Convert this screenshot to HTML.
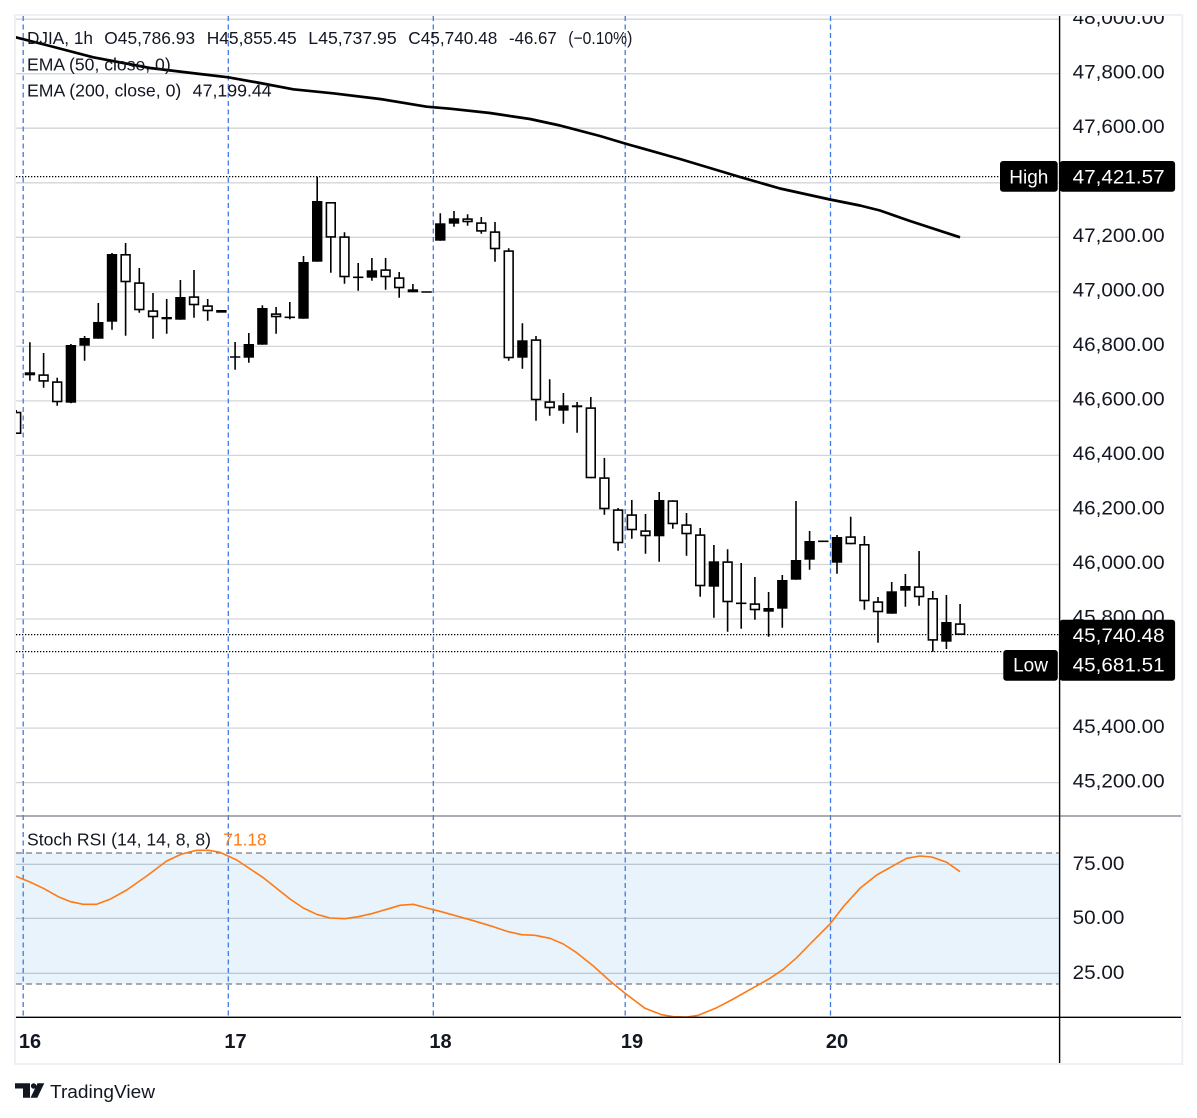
<!DOCTYPE html>
<html><head><meta charset="utf-8"><style>
html,body{margin:0;padding:0;background:#fff;}
svg{display:block;}
text{font-family:"Liberation Sans",sans-serif;}
</style></head><body>
<svg width="1197" height="1118" viewBox="0 0 1197 1118" xmlns="http://www.w3.org/2000/svg">
<defs>
<clipPath id="main"><rect x="16" y="16" width="1043.5" height="800"/></clipPath>
<clipPath id="stoch"><rect x="16" y="817" width="1043.5" height="200.3"/></clipPath>
<clipPath id="axis"><rect x="1060" y="16" width="121" height="800"/></clipPath>
</defs>
<rect x="0" y="0" width="1197" height="1118" fill="#fff"/>
<rect x="15" y="15" width="1167.3" height="1049" fill="#fff" stroke="#eef0f5" stroke-width="2"/>

<!-- main grid -->
<g stroke="#d3d5da" stroke-width="1.3">
<line x1="16" x2="1059" y1="19.2" y2="19.2"/>
<line x1="16" x2="1059" y1="73.7" y2="73.7"/>
<line x1="16" x2="1059" y1="128.2" y2="128.2"/>
<line x1="16" x2="1059" y1="182.8" y2="182.8"/>
<line x1="16" x2="1059" y1="237.3" y2="237.3"/>
<line x1="16" x2="1059" y1="291.8" y2="291.8"/>
<line x1="16" x2="1059" y1="346.4" y2="346.4"/>
<line x1="16" x2="1059" y1="400.9" y2="400.9"/>
<line x1="16" x2="1059" y1="455.4" y2="455.4"/>
<line x1="16" x2="1059" y1="510" y2="510"/>
<line x1="16" x2="1059" y1="564.5" y2="564.5"/>
<line x1="16" x2="1059" y1="619" y2="619"/>
<line x1="16" x2="1059" y1="673.6" y2="673.6"/>
<line x1="16" x2="1059" y1="728.1" y2="728.1"/>
<line x1="16" x2="1059" y1="782.6" y2="782.6"/>
</g>

<!-- stoch band -->
<rect x="16" y="853" width="1043.5" height="131" fill="#e8f3fc"/>
<g stroke="#b6c1ce" stroke-width="1.2">
<line x1="16" x2="1059" y1="864.3" y2="864.3"/>
<line x1="16" x2="1059" y1="918.3" y2="918.3"/>
<line x1="16" x2="1059" y1="973.3" y2="973.3"/>
</g>
<g stroke="#787b86" stroke-width="1.2" stroke-dasharray="6 4">
<line x1="16" x2="1059" y1="853" y2="853"/>
<line x1="16" x2="1059" y1="984" y2="984"/>
</g>

<!-- day lines -->
<g stroke="#3f7be3" stroke-width="1.3" stroke-dasharray="5 3.5">
<line x1="23.2" x2="23.2" y1="16" y2="1017"/>
<line x1="228.3" x2="228.3" y1="16" y2="1017"/>
<line x1="433.3" x2="433.3" y1="16" y2="1017"/>
<line x1="625.2" x2="625.2" y1="16" y2="1017"/>
<line x1="830.5" x2="830.5" y1="16" y2="1017"/>
</g>

<!-- dotted price lines -->
<g stroke="#000" stroke-width="1.2" stroke-dasharray="1.3 1.7">
<line x1="16" x2="1000" y1="176.6" y2="176.6"/>
<line x1="16" x2="1059" y1="634.6" y2="634.6"/>
<line x1="16" x2="1003" y1="651.6" y2="651.6"/>
</g>

<g clip-path="url(#main)">
<!-- EMA 200 -->
<polyline fill="none" stroke="#000" stroke-width="2.7" stroke-linejoin="round" points="15.7,37.3 50,46 93.3,57.3 150,68 200,74 228.3,77.3 260,83 293.3,89.3 333,93.3 380,99 426.7,106.7 450,108.7 490,113 530,119 560,125.5 600,136 625,143.5 680,159 740,177 780,188.5 830,199.5 860,205.5 880,210.5 910,221 960,237.3"/>

<!-- wicks -->
<path fill="none" stroke="#000" stroke-width="1.6" d="
M16.2 410V434 M29.9 342.3V380.7 M43.6 353V387.7 M57.2 377.7V405.7 M70.9 344V403.3 M84.6 336V360.7 M98.3 303V338.7 M112 253V329.7 M125.6 243V335.7 M139.3 268V312.7 M153 293V338.7 M166.7 299V333.7 M180.4 280V319.7 M194 270V317.7 M207.7 299V320.7
M235.1 342V369.7 M248.8 333V362.7 M262.4 305.3V344.7 M276.1 307V333.7 M289.8 302V319.3 M303.5 256V318.7 M317.2 176.7V261.7 M330.8 202V272.7 M344.5 232.3V283.7 M358.2 263V290.7 M371.9 258V280.7 M385.6 258V289.7 M399.2 272V297.7 M412.9 284V292.3
M440.3 213.3V240.7 M454 211V226.7 M467.6 214.3V225.7 M481.3 217V233.7 M495 222V261.7 M508.7 248.3V360.7 M522.4 323.3V368.7 M536 336V420.7 M549.7 379.3V415.7 M563.4 393V423.7 M577.1 402V432.7 M590.8 397V478.3 M604.4 458V514.7 M618.1 508V550.7
M631.8 500V538.7 M645.5 514V553.7 M659.2 492V561.7 M672.8 500.3V528.7 M686.5 513V555.7 M700.2 528V596.7 M713.9 545V617.7 M727.6 549.3V631.7 M741.2 563V628.7 M754.9 577V619.7 M768.6 592V636.7 M782.3 575V627.7 M796 501V579.7 M809.6 531V569.7
M837 535V573.7 M850.7 516.7V544.3 M864.4 536V609.7 M878 597V642.7 M891.7 582V613.7 M905.4 574V606.7 M919.1 551V605.7 M932.8 591V651.7 M946.4 595V649 M960.1 604V635
M230 357H240.3 M284.6 317.3H295 M353 277.3H363.4 M421.4 292H431.8 M736 603.3H746.4 M818.1 541.3H828.5
"/>

<!-- black bodies -->
<g fill="#000">
<rect x="65.7" y="345" width="10.4" height="57.7"/>
<rect x="79.4" y="338" width="10.4" height="7.7"/>
<rect x="93.1" y="322" width="10.4" height="16.7"/>
<rect x="106.8" y="254" width="10.4" height="67.7"/>
<rect x="175.2" y="297" width="10.4" height="22.7"/>
<rect x="216.2" y="310" width="10.4" height="2.7"/>
<rect x="243.6" y="344" width="10.4" height="13.7"/>
<rect x="257.2" y="308" width="10.4" height="36.7"/>
<rect x="298.3" y="262" width="10.4" height="56.7"/>
<rect x="312" y="201" width="10.4" height="60.7"/>
<rect x="366.7" y="270.3" width="10.4" height="7.4"/>
<rect x="435.1" y="223.3" width="10.4" height="17.4"/>
<rect x="448.8" y="218.3" width="10.4" height="5.4"/>
<rect x="517.2" y="340.3" width="10.4" height="17.4"/>
<rect x="558.2" y="405.3" width="10.4" height="5.4"/>
<rect x="654" y="500" width="10.4" height="36.3"/>
<rect x="708.7" y="561.3" width="10.4" height="25.4"/>
<rect x="763.4" y="608" width="10.4" height="3.7"/>
<rect x="777.1" y="580" width="10.4" height="28.7"/>
<rect x="790.8" y="560" width="10.4" height="19.7"/>
<rect x="804.4" y="541" width="10.4" height="18.7"/>
<rect x="831.8" y="537" width="10.4" height="25.7"/>
<rect x="886.5" y="591.3" width="10.4" height="22.4"/>
<rect x="900.2" y="586" width="10.4" height="4.7"/>
<rect x="941.2" y="622" width="10.4" height="19.7"/>
</g>

<!-- white bodies -->
<g fill="#fff" stroke="#000" stroke-width="1.6">
<rect x="11.8" y="412.5" width="8.8" height="20.7"/>
<rect x="25.5" y="373.1" width="8.8" height="1.4"/>
<rect x="39.2" y="375.1" width="8.8" height="5.8"/>
<rect x="52.8" y="382.1" width="8.8" height="19.4"/>
<rect x="121.2" y="254.8" width="8.8" height="26.7"/>
<rect x="134.9" y="283.1" width="8.8" height="26.4"/>
<rect x="148.6" y="311.1" width="8.8" height="5.4"/>
<rect x="162.3" y="317.8" width="8.8" height="0.7"/>
<rect x="189.6" y="297.1" width="8.8" height="7.4"/>
<rect x="203.3" y="306.1" width="8.8" height="4.4"/>
<rect x="271.7" y="314.1" width="8.8" height="2.4"/>
<rect x="326.4" y="202.8" width="8.8" height="34.1"/>
<rect x="340.1" y="237.1" width="8.8" height="39.4"/>
<rect x="381.2" y="270.1" width="8.8" height="6.4"/>
<rect x="394.8" y="278.1" width="8.8" height="9.4"/>
<rect x="408.5" y="290.1" width="8.8" height="1.4"/>
<rect x="463.2" y="219.1" width="8.8" height="2.4"/>
<rect x="476.9" y="223.1" width="8.8" height="7.8"/>
<rect x="490.6" y="232.1" width="8.8" height="16.4"/>
<rect x="504.3" y="251.1" width="8.8" height="106.4"/>
<rect x="531.6" y="340.1" width="8.8" height="59.4"/>
<rect x="545.3" y="402.1" width="8.8" height="5.4"/>
<rect x="572.7" y="406.1" width="8.8" height="0.4"/>
<rect x="586.4" y="408.1" width="8.8" height="69.4"/>
<rect x="600" y="478.1" width="8.8" height="30.4"/>
<rect x="613.7" y="510.1" width="8.8" height="32.4"/>
<rect x="627.4" y="515.1" width="8.8" height="14.4"/>
<rect x="641.1" y="531.1" width="8.8" height="4.4"/>
<rect x="668.4" y="501.1" width="8.8" height="22.4"/>
<rect x="682.1" y="525.1" width="8.8" height="8.4"/>
<rect x="695.8" y="535.1" width="8.8" height="50.4"/>
<rect x="723.2" y="562.1" width="8.8" height="39.4"/>
<rect x="750.5" y="604.1" width="8.8" height="5.4"/>
<rect x="846.3" y="537.1" width="8.8" height="6.4"/>
<rect x="860" y="544.8" width="8.8" height="55.7"/>
<rect x="873.6" y="602.1" width="8.8" height="9.4"/>
<rect x="914.7" y="587.1" width="8.8" height="9.4"/>
<rect x="928.4" y="598.8" width="8.8" height="41.1"/>
<rect x="955.7" y="624.1" width="8.8" height="10.1"/>
</g>
</g>

<!-- stoch line -->
<g clip-path="url(#stoch)">
<polyline fill="none" stroke="#ff7a14" stroke-width="1.6" stroke-linejoin="round" points="15.7,876.3 30,882 43.3,888.3 58.3,896.7 70.7,901.7 83.3,904.3 96.7,904.3 110,899.3 126.7,890 146.7,876 166.7,861 181.7,854 196.7,850.3 208.3,850.3 220,852.3 236.7,860 263.3,877.7 290,899 303.3,908 316.7,914.3 330,918 345,918.7 358.3,916.7 371.7,913.7 386.7,909.3 400,905.3 413.3,904.3 426.7,908 440,911.3 473.3,920.7 493.3,926.7 508.3,931.7 521.7,934.7 535,935.3 550,938.3 563.3,944 576.7,952.7 593.3,966 610,981 625,993.3 645,1008.3 661.7,1014.7 673.3,1016.7 686.7,1017 698.3,1015.3 716.7,1007.7 733.3,999 753.3,987.7 770,978.3 783.3,969.3 796.7,957.7 810,944 830,924 843.3,906.7 860,888.3 876.7,875 893.3,865.7 906.7,858.3 920,856 931.7,857 946.7,862.3 960,871.7"/>
</g>

<!-- legend -->
<g fill="#131722" font-size="17.5">
<text x="27" y="44" textLength="66" lengthAdjust="spacingAndGlyphs">DJIA, 1h</text>
<text x="104.3" y="44" textLength="90.7" lengthAdjust="spacingAndGlyphs">O45,786.93</text>
<text x="206.7" y="44" textLength="90" lengthAdjust="spacingAndGlyphs">H45,855.45</text>
<text x="308.3" y="44" textLength="88.4" lengthAdjust="spacingAndGlyphs">L45,737.95</text>
<text x="408.3" y="44" textLength="89" lengthAdjust="spacingAndGlyphs">C45,740.48</text>
<text x="509" y="44" textLength="47.7" lengthAdjust="spacingAndGlyphs">-46.67</text>
<text x="568.3" y="44" textLength="64" lengthAdjust="spacingAndGlyphs">(−0.10%)</text>
<text x="27" y="70.5" textLength="143.7" lengthAdjust="spacingAndGlyphs">EMA (50, close, 0)</text>
<text x="27" y="96.7" textLength="154.3" lengthAdjust="spacingAndGlyphs">EMA (200, close, 0)</text>
<text x="192.7" y="96.7" textLength="79" lengthAdjust="spacingAndGlyphs">47,199.44</text>
<text x="27" y="845.5" textLength="184" lengthAdjust="spacingAndGlyphs">Stoch RSI (14, 14, 8, 8)</text>
</g>
<text x="223.3" y="845.5" fill="#ff7a14" font-size="17.5" textLength="43.4" lengthAdjust="spacingAndGlyphs">71.18</text>

<!-- pane separators & axes -->
<line x1="16" x2="1181" y1="816" y2="816" stroke="#787b86" stroke-width="1.2"/>
<line x1="16" x2="1181" y1="1017.3" y2="1017.3" stroke="#000" stroke-width="1.4"/>
<line x1="1059.6" x2="1059.6" y1="16" y2="1063" stroke="#000" stroke-width="1.4"/>

<!-- price axis labels -->
<g fill="#131722" font-size="19" clip-path="url(#axis)">
<text x="1072.7" y="23.9" textLength="92" lengthAdjust="spacingAndGlyphs">48,000.00</text>
<text x="1072.7" y="78.4" textLength="92" lengthAdjust="spacingAndGlyphs">47,800.00</text>
<text x="1072.7" y="132.9" textLength="92" lengthAdjust="spacingAndGlyphs">47,600.00</text>
<text x="1072.7" y="242" textLength="92" lengthAdjust="spacingAndGlyphs">47,200.00</text>
<text x="1072.7" y="296.5" textLength="92" lengthAdjust="spacingAndGlyphs">47,000.00</text>
<text x="1072.7" y="351.1" textLength="92" lengthAdjust="spacingAndGlyphs">46,800.00</text>
<text x="1072.7" y="405.6" textLength="92" lengthAdjust="spacingAndGlyphs">46,600.00</text>
<text x="1072.7" y="460.1" textLength="92" lengthAdjust="spacingAndGlyphs">46,400.00</text>
<text x="1072.7" y="514.7" textLength="92" lengthAdjust="spacingAndGlyphs">46,200.00</text>
<text x="1072.7" y="569.2" textLength="92" lengthAdjust="spacingAndGlyphs">46,000.00</text>
<text x="1072.7" y="623.7" textLength="92" lengthAdjust="spacingAndGlyphs">45,800.00</text>
<text x="1072.7" y="732.8" textLength="92" lengthAdjust="spacingAndGlyphs">45,400.00</text>
<text x="1072.7" y="787.3" textLength="92" lengthAdjust="spacingAndGlyphs">45,200.00</text>
</g>
<g fill="#131722" font-size="19">
<text x="1072.7" y="869.8" textLength="51.7" lengthAdjust="spacingAndGlyphs">75.00</text>
<text x="1072.7" y="923.8" textLength="51.7" lengthAdjust="spacingAndGlyphs">50.00</text>
<text x="1072.7" y="978.8" textLength="51.7" lengthAdjust="spacingAndGlyphs">25.00</text>
</g>

<!-- High / Close / Low labels -->
<rect x="1000" y="161" width="57.7" height="30.7" rx="3" fill="#000"/>
<rect x="1059.6" y="161" width="115.5" height="30.7" rx="3" fill="#000"/>
<rect x="1059.6" y="619.8" width="115.5" height="61" rx="3" fill="#000"/>
<rect x="1003.3" y="650" width="54.5" height="30.7" rx="3" fill="#000"/>
<g fill="#fff" font-size="19">
<text x="1028.8" y="183.3" text-anchor="middle">High</text>
<text x="1072.7" y="183.3" textLength="92" lengthAdjust="spacingAndGlyphs">47,421.57</text>
<text x="1072.7" y="641.8" textLength="92" lengthAdjust="spacingAndGlyphs">45,740.48</text>
<text x="1072.7" y="671.5" textLength="92" lengthAdjust="spacingAndGlyphs">45,681.51</text>
<text x="1030.5" y="671.5" text-anchor="middle">Low</text>
</g>

<!-- time axis -->
<g fill="#131722" font-size="20" font-weight="bold" text-anchor="middle">
<text x="30" y="1048">16</text>
<text x="235.5" y="1048">17</text>
<text x="440.5" y="1048">18</text>
<text x="632" y="1048">19</text>
<text x="837" y="1048">20</text>
</g>

<!-- TradingView logo -->
<g fill="#131722">
<path d="M15 1083.3H30V1097.7H23V1088.5H15Z"/>
<circle cx="33.6" cy="1086" r="2.7"/>
<path d="M37.5 1083.3H44.3L37.3 1097.7H30.5Z"/>
<text x="50" y="1098" font-size="18.5" textLength="105" lengthAdjust="spacingAndGlyphs">TradingView</text>
</g>
</svg>
</body></html>
